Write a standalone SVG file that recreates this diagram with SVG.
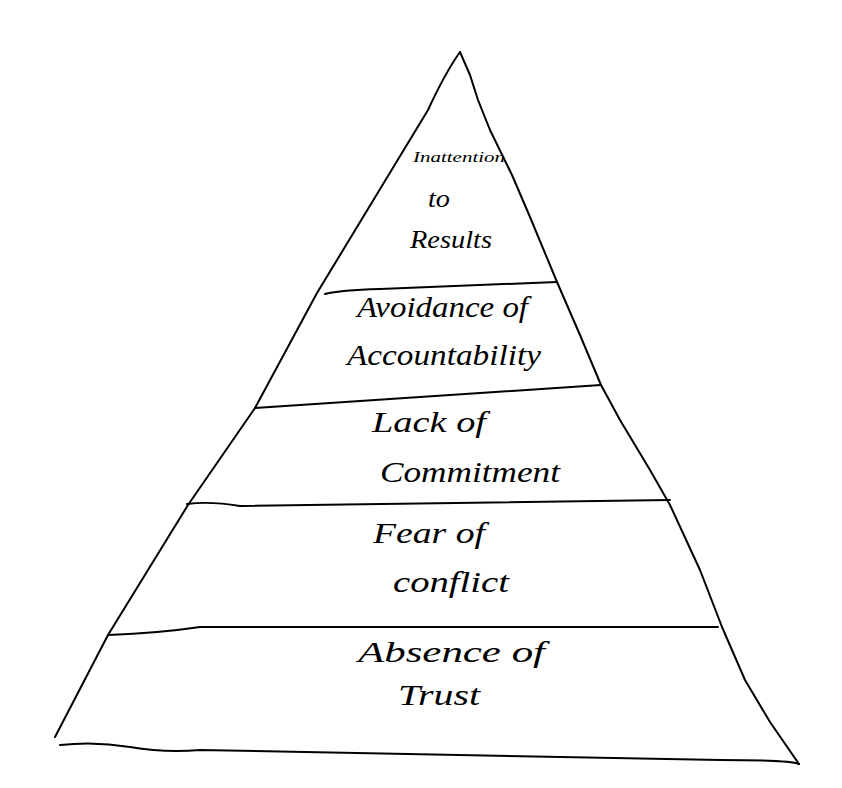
<svg xmlns="http://www.w3.org/2000/svg" width="842" height="788" viewBox="0 0 842 788">
  <style>
    .ink { fill: none; stroke: #000; stroke-width: 2; stroke-linecap: round; stroke-linejoin: round; }
    .lbl { font-family: "Liberation Serif", "DejaVu Serif", serif; font-style: italic; fill: #000; }
  </style>
  <rect width="842" height="788" fill="#fff"/>

  <!-- pyramid outline and tier dividers -->
  <g id="connectors">
    <path class="ink" d="M460,52 C450,66 440,84 428,110 L317,293 L255,408 L188,505 L108,635 L55,737"/>
    <polyline class="ink" points="460,52 470,75 478,100 490,130 512,175 530,217 557,282 580,335 601,385 620,420 635,445 650,470 670,505 700,570 722,627 745,680 770,722 799,764"/>
    <path class="ink" d="M60,745 Q95,741 130,747 T200,750 L720,760 Q790,760 799,764"/>
    <path class="ink" d="M325,294 Q340,290 380,289 L557,282"/>
    <path class="ink" d="M255,408 L601,385"/>
    <path class="ink" d="M187,504 Q210,501 240,506 L670,500"/>
    <path class="ink" d="M108,635 Q160,633 200,627 L718,627"/>
  </g>

  <g id="tier-results">
    <text class="lbl" x="413" y="162" font-size="15" textLength="92" lengthAdjust="spacingAndGlyphs">Inattention</text>
    <text class="lbl" x="428" y="207" font-size="26" textLength="22" lengthAdjust="spacingAndGlyphs">to</text>
    <text class="lbl" x="410" y="248" font-size="26" textLength="82" lengthAdjust="spacingAndGlyphs">Results</text>
  </g>
  <g id="tier-accountability">
    <text class="lbl" x="357" y="317" font-size="30" textLength="171" lengthAdjust="spacingAndGlyphs">Avoidance of</text>
    <text class="lbl" x="347" y="365" font-size="30" textLength="194" lengthAdjust="spacingAndGlyphs">Accountability</text>
  </g>
  <g id="tier-commitment">
    <text class="lbl" x="372" y="432" font-size="30" textLength="114" lengthAdjust="spacingAndGlyphs">Lack of</text>
    <text class="lbl" x="380" y="482" font-size="30" textLength="180" lengthAdjust="spacingAndGlyphs">Commitment</text>
  </g>
  <g id="tier-conflict">
    <text class="lbl" x="373" y="543" font-size="30" textLength="112" lengthAdjust="spacingAndGlyphs">Fear of</text>
    <text class="lbl" x="393" y="592" font-size="30" textLength="116" lengthAdjust="spacingAndGlyphs">conflict</text>
  </g>
  <g id="tier-trust">
    <text class="lbl" x="358" y="662" font-size="30" textLength="187" lengthAdjust="spacingAndGlyphs">Absence of</text>
    <text class="lbl" x="398" y="705" font-size="30" textLength="82" lengthAdjust="spacingAndGlyphs">Trust</text>
  </g>
</svg>
